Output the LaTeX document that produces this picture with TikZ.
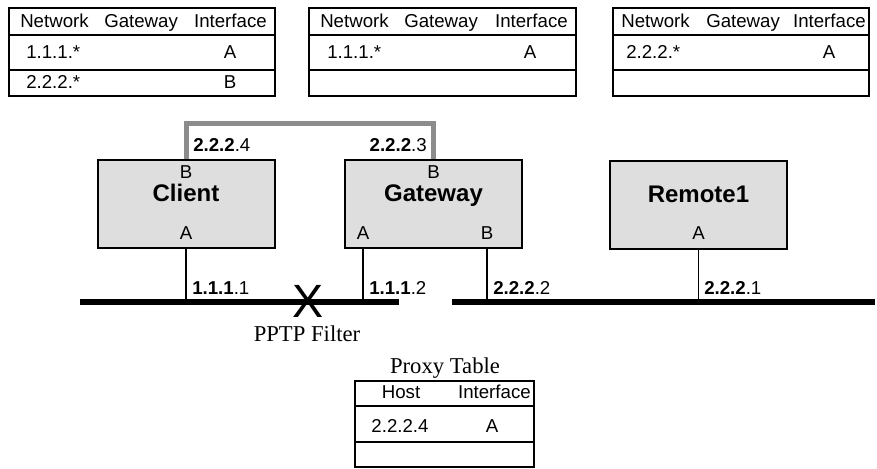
\documentclass[tikz,border=0pt]{standalone}
\usepackage{fontspec}
\setmainfont{Liberation Serif}
\setsansfont{Liberation Sans}
\definecolor{boxgray}{RGB}{222,222,222}
\definecolor{bridgegray}{RGB}{140,140,140}

\begin{document}
\begin{tikzpicture}[x=0.75pt,y=0.75pt,yscale=-1,xscale=1,
  font=\sffamily\fontsize{14}{16}\selectfont,
  every node/.style={inner sep=0.75pt, text height=10.5pt, text depth=3pt},
  host/.style={draw, line width=1.5pt, fill=boxgray, minimum width=132.75pt, minimum height=66pt, inner sep=0pt, text height=, text depth=},
  hostname/.style={font=\sffamily\bfseries\fontsize{18}{20}\selectfont, text height=13.5pt, text depth=4pt},
  tbl/.style={line width=1.5pt},
  port/.style={line width=0.8pt},
  lan/.style={line width=4.5pt},
  bridge/.style={line width=3.75pt, color=bridgegray},
  serif/.style={font=\rmfamily\fontsize{17}{19}\selectfont, text height=12pt, text depth=4pt}]
\useasboundingbox (0,0) rectangle (877,468);

%Shape: Routing table of Client
\draw [tbl] (9,8) rectangle (275,96) ;
\draw [tbl] (9,35) -- (275,35) ;
\draw [tbl] (9,70) -- (275,70) ;
% Text Node
\node [anchor=west] (rtcnet) at (19,22) {Network};
\node [anchor=west] (rtcgw) at (103,22) {Gateway};
\node [anchor=east] (rtcif) at (268,22) {Interface};
\node [anchor=west] (rtcaNet) at (25,53) {1.1.1.*};
\node (rtcaIf) at (230,53) {A};
\node [anchor=west] (rtcbNet) at (25,83) {2.2.2.*};
\node (rtcbIf) at (230,83) {B};

%Shape: Routing table of Gateway
\draw [tbl] (309,8) rectangle (576,96) ;
\draw [tbl] (309,35) -- (576,35) ;
\draw [tbl] (309,70) -- (576,70) ;
% Text Node
\node [anchor=west] (rtgnet) at (319,22) {Network};
\node [anchor=west] (rtggw) at (403,22) {Gateway};
\node [anchor=east] (rtgif) at (569,22) {Interface};
\node [anchor=west] (rtgaNet) at (326,53) {1.1.1.*};
\node (rtgaIf) at (530,53) {A};

%Shape: Routing table of Remote1
\draw [tbl] (613,8) rectangle (869,96) ;
\draw [tbl] (613,35) -- (869,35) ;
\draw [tbl] (613,70) -- (869,70) ;
% Text Node
\node [anchor=west] (rtrnet) at (620,22) {Network};
\node [anchor=west] (rtrgw) at (705,22) {Gateway};
\node [anchor=east] (rtrif) at (867,22) {Interface};
\node [anchor=west] (rtraNet) at (625,53) {2.2.2.*};
\node (rtraIf) at (829,53) {A};

%Shape: Hosts
\node [host] (client) at (186,204) {};
\node [host] (gateway) at (433.5,204) {};
\node [host] (remote) at (698.5,204.5) {};
% Text Node
\node (clientB) at (186,173) {B};
\node [hostname] (clientName) at (186,195) {Client};
\node (clientA) at (186,234) {A};
\node (gatewayB) at (433.5,173) {B};
\node [hostname] (gatewayName) at (433.5,195) {Gateway};
\node (gatewayA) at (363,234) {A};
\node (gatewayB2) at (487,234) {B};
\node [hostname] (remoteName) at (698.5,196) {Remote1};
\node (remoteA) at (698.5,234) {A};

%Straight Lines: the two LAN segments
\coordinate (lanAw) at (80,302);
\coordinate (lanAe) at (399,302);
\coordinate (lanBw) at (452,302);
\coordinate (lanBe) at (875,302);
\draw [lan] (lanAw) -- (lanAe) ;
\draw [lan] (lanBw) -- (lanBe) ;

%Straight Lines: host ports down to the LANs
\draw [port] (client.south) -- (client.south |- lanAw) ;
\draw [port] (gatewayA |- gateway.south) -- (gatewayA |- lanAw) ;
\draw [port] (gatewayB2 |- gateway.south) -- (gatewayB2 |- lanBw) ;
\draw [port] (remote.south) -- (remote.south |- lanBw) ;

%Straight Lines: link between the B interfaces
\draw [bridge] (client.north) -- ++(0,-36) -| (gateway.north) ;

% Text Node
\node [anchor=base west] (ipClientB) at (192,151) {\textbf{2.2.2}.4};
\node [anchor=base east] (ipGatewayB) at (428,151) {\textbf{2.2.2}.3};
\node [anchor=base west] (ipClientA) at (191,294) {\textbf{1.1.1}.1};
\node [anchor=base west] (ipGatewayA) at (368,294) {\textbf{1.1.1}.2};
\node [anchor=base west] (ipGatewayB2) at (492,294) {\textbf{2.2.2}.2};
\node [anchor=base west] (ipRemoteA) at (703,294) {\textbf{2.2.2}.1};

% Text Node: the filter
\node [inner sep=0pt, text height=25pt, text depth=0pt] (filter) at (308,301) {\fontsize{35}{35}\selectfont X};
\node [serif] (filterLabel) at (307,336) {PPTP Filter};

%Shape: Proxy table
\node [serif] (proxyTitle) at (445,368) {Proxy Table};
\draw [tbl] (355,381) rectangle (534,467) ;
\draw [tbl] (355,406) -- (534,406) ;
\draw [tbl] (355,442) -- (534,442) ;
% Text Node
\node (pxHost) at (401,393) {Host};
\node [anchor=east] (pxIf) at (532,393) {Interface};
\node (pxaHost) at (400,427) {2.2.2.4};
\node (pxaIf) at (492,427) {A};

\end{tikzpicture}
\end{document}
